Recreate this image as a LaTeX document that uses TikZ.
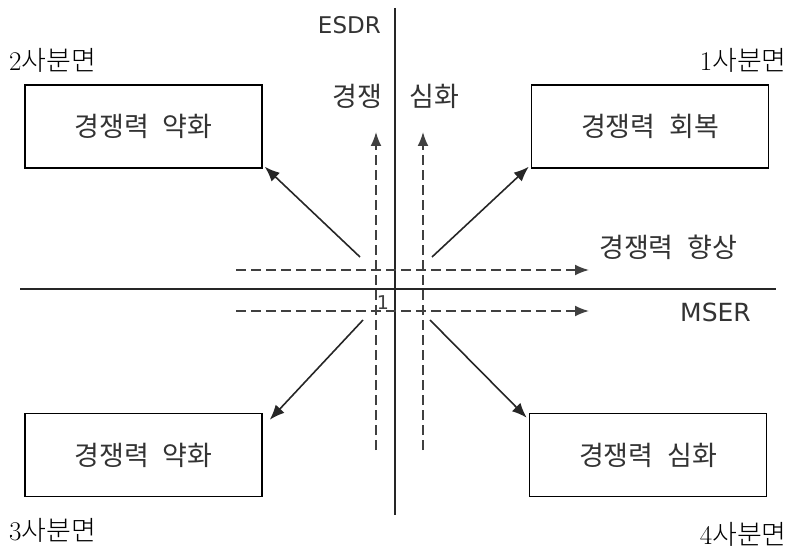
\documentclass[tikz,border=0pt]{standalone}
\usepackage{fontspec}
\usetikzlibrary{arrows.meta}
\newfontfamily\kr{Noto Sans CJK KR}
\newfontfamily\krl{Noto Sans CJK KR Light}
\newfontfamily\dv{DejaVu Sans}
\tikzset{
  qbox/.style={draw, line width=1.5pt, minimum width=237pt, minimum height=83pt, inner sep=0pt, font=\kr\fontsize{27}{30}\selectfont, text=black!80},
  lbl/.style={inner sep=0pt, font=\kr\fontsize{27}{30}\selectfont, text=black!80},
  lat/.style={inner sep=0pt, font=\dv\fontsize{23}{26}\selectfont, text=black!80},
  quad/.style={inner sep=0pt, font=\fontsize{27}{30}\selectfont},
  axis/.style={line width=1.5pt, black!85},
  darr/.style={dash pattern=on 10pt off 5pt, line width=1.8pt, black!75, -{Latex[length=14pt,width=11pt]}},
  sarr/.style={line width=1.6pt, black!85, -{Latex[length=15pt,width=12pt]}}
}
\begin{document}
\begin{tikzpicture}[x=1pt,y=-1pt]
\useasboundingbox (0,0) rectangle (790,553);
% axes
\coordinate (vt) at (395,8);
\coordinate (vb) at (395,515);
\coordinate (hl) at (20,289);
\coordinate (hr) at (776,289);
\draw[axis] (vt) -- (vb);
\draw[axis] (hl) -- (hr);
% boxes
\node[qbox] (b2) at (143.5,126.5) {경쟁력\hspace{0.5em}약화};
\node[qbox] (b1) at (650,126.5) {경쟁력\hspace{0.5em}회복};
\node[qbox] (b3) at (143.5,455) {경쟁력\hspace{0.5em}약화};
\node[qbox] (b4) at (648,455) {경쟁력\hspace{0.5em}심화};
% quadrant labels
\node[quad, anchor=west] (q2) at (9,60) {2{\krl 사분면}};
\node[quad, anchor=east] (q1) at (787,60) {1{\krl 사분면}};
\node[quad, anchor=west] (q3) at (9,530) {3{\krl 사분면}};
\node[quad, anchor=east] (q4) at (787,534) {4{\krl 사분면}};
% axis labels
\node[lat, anchor=east] (esdr) at (381,25) {ESDR};
\node[lat, anchor=west, font=\dv\fontsize{25}{28}\selectfont] (mser) at (680,312) {MSER};
\node[lbl, anchor=west] (hs) at (599,247) {경쟁력\hspace{0.5em}향상};
\node[lbl] (kj) at (357,96) {경쟁};
\node[lbl] (sh) at (434,96) {심화};
\node[inner sep=0pt, font=\dv\fontsize{19}{22}\selectfont, text=black!75] (one) at (383,303) {1};
% dashed arrows
\coordinate (v1s) at (376,450);
\coordinate (v1e) at (376,132);
\coordinate (v2s) at (423,450);
\coordinate (v2e) at (423,132);
\coordinate (h1s) at (236,270);
\coordinate (h1e) at (589,270);
\coordinate (h2s) at (236,311);
\coordinate (h2e) at (589,311);
\draw[darr] (v1s) -- (v1e);
\draw[darr] (v2s) -- (v2e);
\draw[darr] (h1s) -- (h1e);
\draw[darr] (h2s) -- (h2e);
% diagonal arrows
\coordinate (d2) at (360,257);
\coordinate (d1) at (432,257);
\coordinate (d3) at (363,320);
\coordinate (d4) at (430,320);
\draw[sarr] (d2) -- ([xshift=2pt,yshift=2pt]b2.south east);
\draw[sarr] (d1) -- ([xshift=-2pt,yshift=2pt]b1.south west);
\draw[sarr] (d3) -- ([xshift=7pt,yshift=-7pt]b3.north east);
\draw[sarr] (d4) -- ([xshift=-2pt,yshift=-5pt]b4.north west);
\end{tikzpicture}
\end{document}
